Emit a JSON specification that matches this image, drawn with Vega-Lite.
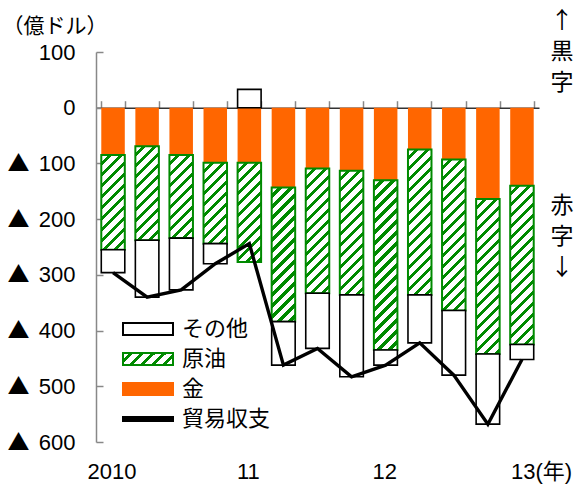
{
  "$schema": "https://vega.github.io/schema/vega-lite/v6.json",
  "width": 443,
  "height": 390,
  "autosize": "none",
  "padding": {"left": 96, "top": 52, "right": 43, "bottom": 46},
  "background": "white",
  "config": {"view": {"stroke": null}, "font": "Liberation Sans", "axis": {"grid": false}},
  "params": [
    {"name": "hatchStops", "value": [
      {"offset": 0, "color": "#ffffff"}, {"offset": 0.031, "color": "#ffffff"}, {"offset": 0.031, "color": "#008A00"}, {"offset": 0.05, "color": "#008A00"},
      {"offset": 0.05, "color": "#ffffff"}, {"offset": 0.081, "color": "#ffffff"}, {"offset": 0.081, "color": "#008A00"}, {"offset": 0.1, "color": "#008A00"},
      {"offset": 0.1, "color": "#ffffff"}, {"offset": 0.131, "color": "#ffffff"}, {"offset": 0.131, "color": "#008A00"}, {"offset": 0.15, "color": "#008A00"},
      {"offset": 0.15, "color": "#ffffff"}, {"offset": 0.181, "color": "#ffffff"}, {"offset": 0.181, "color": "#008A00"}, {"offset": 0.2, "color": "#008A00"},
      {"offset": 0.2, "color": "#ffffff"}, {"offset": 0.231, "color": "#ffffff"}, {"offset": 0.231, "color": "#008A00"}, {"offset": 0.25, "color": "#008A00"},
      {"offset": 0.25, "color": "#ffffff"}, {"offset": 0.281, "color": "#ffffff"}, {"offset": 0.281, "color": "#008A00"}, {"offset": 0.3, "color": "#008A00"},
      {"offset": 0.3, "color": "#ffffff"}, {"offset": 0.331, "color": "#ffffff"}, {"offset": 0.331, "color": "#008A00"}, {"offset": 0.35, "color": "#008A00"},
      {"offset": 0.35, "color": "#ffffff"}, {"offset": 0.381, "color": "#ffffff"}, {"offset": 0.381, "color": "#008A00"}, {"offset": 0.4, "color": "#008A00"},
      {"offset": 0.4, "color": "#ffffff"}, {"offset": 0.431, "color": "#ffffff"}, {"offset": 0.431, "color": "#008A00"}, {"offset": 0.45, "color": "#008A00"},
      {"offset": 0.45, "color": "#ffffff"}, {"offset": 0.481, "color": "#ffffff"}, {"offset": 0.481, "color": "#008A00"}, {"offset": 0.5, "color": "#008A00"},
      {"offset": 0.5, "color": "#ffffff"}, {"offset": 0.531, "color": "#ffffff"}, {"offset": 0.531, "color": "#008A00"}, {"offset": 0.55, "color": "#008A00"},
      {"offset": 0.55, "color": "#ffffff"}, {"offset": 0.581, "color": "#ffffff"}, {"offset": 0.581, "color": "#008A00"}, {"offset": 0.6, "color": "#008A00"},
      {"offset": 0.6, "color": "#ffffff"}, {"offset": 0.631, "color": "#ffffff"}, {"offset": 0.631, "color": "#008A00"}, {"offset": 0.65, "color": "#008A00"},
      {"offset": 0.65, "color": "#ffffff"}, {"offset": 0.681, "color": "#ffffff"}, {"offset": 0.681, "color": "#008A00"}, {"offset": 0.7, "color": "#008A00"},
      {"offset": 0.7, "color": "#ffffff"}, {"offset": 0.731, "color": "#ffffff"}, {"offset": 0.731, "color": "#008A00"}, {"offset": 0.75, "color": "#008A00"},
      {"offset": 0.75, "color": "#ffffff"}, {"offset": 0.781, "color": "#ffffff"}, {"offset": 0.781, "color": "#008A00"}, {"offset": 0.8, "color": "#008A00"},
      {"offset": 0.8, "color": "#ffffff"}, {"offset": 0.831, "color": "#ffffff"}, {"offset": 0.831, "color": "#008A00"}, {"offset": 0.85, "color": "#008A00"},
      {"offset": 0.85, "color": "#ffffff"}, {"offset": 0.881, "color": "#ffffff"}, {"offset": 0.881, "color": "#008A00"}, {"offset": 0.9, "color": "#008A00"},
      {"offset": 0.9, "color": "#ffffff"}, {"offset": 0.931, "color": "#ffffff"}, {"offset": 0.931, "color": "#008A00"}, {"offset": 0.95, "color": "#008A00"},
      {"offset": 0.95, "color": "#ffffff"}, {"offset": 0.981, "color": "#ffffff"}, {"offset": 0.981, "color": "#008A00"}, {"offset": 1, "color": "#008A00"}
    ]}
  ],
  "datasets": {
    "parts": [
      {"q": "2010Q1", "item": "金", "value": -85}, {"q": "2010Q1", "item": "原油", "value": -170}, {"q": "2010Q1", "item": "その他", "value": -41},
      {"q": "2010Q2", "item": "金", "value": -69}, {"q": "2010Q2", "item": "原油", "value": -169}, {"q": "2010Q2", "item": "その他", "value": -102},
      {"q": "2010Q3", "item": "金", "value": -85}, {"q": "2010Q3", "item": "原油", "value": -149}, {"q": "2010Q3", "item": "その他", "value": -93},
      {"q": "2010Q4", "item": "金", "value": -99}, {"q": "2010Q4", "item": "原油", "value": -145}, {"q": "2010Q4", "item": "その他", "value": -36},
      {"q": "2011Q1", "item": "金", "value": -99}, {"q": "2011Q1", "item": "原油", "value": -178}, {"q": "2011Q1", "item": "その他", "value": 33},
      {"q": "2011Q2", "item": "金", "value": -143}, {"q": "2011Q2", "item": "原油", "value": -241}, {"q": "2011Q2", "item": "その他", "value": -78},
      {"q": "2011Q3", "item": "金", "value": -109}, {"q": "2011Q3", "item": "原油", "value": -224}, {"q": "2011Q3", "item": "その他", "value": -99},
      {"q": "2011Q4", "item": "金", "value": -113}, {"q": "2011Q4", "item": "原油", "value": -223}, {"q": "2011Q4", "item": "その他", "value": -147},
      {"q": "2012Q1", "item": "金", "value": -130}, {"q": "2012Q1", "item": "原油", "value": -305}, {"q": "2012Q1", "item": "その他", "value": -27},
      {"q": "2012Q2", "item": "金", "value": -75}, {"q": "2012Q2", "item": "原油", "value": -261}, {"q": "2012Q2", "item": "その他", "value": -86},
      {"q": "2012Q3", "item": "金", "value": -93}, {"q": "2012Q3", "item": "原油", "value": -271}, {"q": "2012Q3", "item": "その他", "value": -116},
      {"q": "2012Q4", "item": "金", "value": -164}, {"q": "2012Q4", "item": "原油", "value": -278}, {"q": "2012Q4", "item": "その他", "value": -126},
      {"q": "2013Q1", "item": "金", "value": -140}, {"q": "2013Q1", "item": "原油", "value": -285}, {"q": "2013Q1", "item": "その他", "value": -27}
    ],
    "balance": [
      {"q": "2010Q1", "item": "貿易収支", "value": -296},
      {"q": "2010Q2", "item": "貿易収支", "value": -340},
      {"q": "2010Q3", "item": "貿易収支", "value": -327},
      {"q": "2010Q4", "item": "貿易収支", "value": -280},
      {"q": "2011Q1", "item": "貿易収支", "value": -244},
      {"q": "2011Q2", "item": "貿易収支", "value": -462},
      {"q": "2011Q3", "item": "貿易収支", "value": -432},
      {"q": "2011Q4", "item": "貿易収支", "value": -483},
      {"q": "2012Q1", "item": "貿易収支", "value": -462},
      {"q": "2012Q2", "item": "貿易収支", "value": -422},
      {"q": "2012Q3", "item": "貿易収支", "value": -480},
      {"q": "2012Q4", "item": "貿易収支", "value": -568},
      {"q": "2013Q1", "item": "貿易収支", "value": -452}
    ]
  },
  "resolve": {"axis": {"x": "independent", "y": "independent"}},
  "layer": [
    {
      "data": {"name": "parts"},
      "transform": [
        {"stack": "value", "groupby": ["q"], "sort": [{"field": "item", "order": "descending"}], "as": ["v0", "v1"]}
      ],
      "mark": {
        "type": "bar",
        "fill": {"expr": "datum.item === '金' ? '#FF6600' : datum.item === '原油' ? {gradient: 'linear', x1: 0, y1: 0, x2: 220 * bandwidth('x') / (bandwidth('x') * bandwidth('x') + pow(abs(datum.value) * height / 700, 2)), y2: 220 * (abs(datum.value) * height / 700) / (bandwidth('x') * bandwidth('x') + pow(abs(datum.value) * height / 700, 2)), stops: hatchStops} : 'white'"},
        "stroke": {"expr": "datum.item === 'その他' ? 'black' : datum.item === '原油' ? '#008A00' : 'transparent'"},
        "strokeWidth": {"expr": "datum.item === '原油' ? 2 : 1.6"}
      },
      "encoding": {
        "x": {
          "field": "q", "type": "nominal", "sort": null,
          "scale": {"type": "band", "paddingInner": 0.31, "paddingOuter": 0.155},
          "axis": {
            "orient": "bottom", "domain": false, "ticks": false, "title": null,
            "labelExpr": "datum.value == '2010Q1' ? '2010' : datum.value == '2011Q1' ? '11' : datum.value == '2012Q1' ? '12' : datum.value == '2013Q1' ? '13(年)' : ''",
            "labelAngle": 0, "labelFont": "Liberation Sans, Noto Sans CJK JP", "labelFontSize": 22, "labelColor": "black",
            "labelPadding": 19, "labelOverlap": false, "labelBound": false, "labelFlush": false,
            "labelAlign": {"condition": {"test": "datum.value == '2013Q1'", "value": "left"}, "value": "center"},
            "labelOffset": {"condition": {"test": "datum.value == '2013Q1'", "value": -11}, "value": -1}
          }
        },
        "y": {
          "field": "v0", "type": "quantitative",
          "scale": {"domain": [-600, 100], "nice": false, "zero": false},
          "axis": {
            "orient": "left", "values": [100, 0, -100, -200, -300, -400, -500, -600],
            "labelExpr": "'' + abs(datum.value)",
            "labelFont": "Liberation Sans", "labelFontSize": 22, "labelColor": "black", "labelPadding": 28,
            "domainColor": "#888888", "domainWidth": 1.5, "tickColor": "#888888", "tickWidth": 1.5, "tickSize": -7,
            "title": "（億ドル）", "titleAngle": 0, "titleX": -94, "titleY": -26, "titleAlign": "left", "titleBaseline": "middle",
            "titleFont": "Noto Sans CJK JP", "titleFontSize": 21, "titleFontWeight": "normal", "titleColor": "black"
          }
        },
        "y2": {"field": "v1"}
      }
    },
    {
      "data": {"name": "balance"},
      "mark": {"type": "line", "strokeWidth": 3.4, "strokeJoin": "miter"},
      "encoding": {
        "x": {
          "field": "q", "type": "nominal", "sort": null,
          "scale": {"type": "band", "paddingInner": 0.31, "paddingOuter": 0.155},
          "axis": {
            "orient": "top", "offset": -55.71, "labels": false, "title": null,
            "domainColor": "#333333", "domainWidth": 1.6,
            "ticks": true, "tickBand": "extent", "tickColor": "#888888", "tickSize": 7, "tickWidth": 1.5
          }
        },
        "y": {
          "field": "value", "type": "quantitative",
          "axis": {
            "orient": "right", "offset": -532, "title": null, "values": [-100, -200, -300, -400, -500, -600],
            "labelExpr": "'▲'", "labelFont": "Noto Sans CJK JP", "labelFontSize": 22, "labelColor": "black",
            "labelAlign": "left", "labelPadding": 0, "domain": false, "ticks": false, "labelOverlap": false
          }
        },
        "color": {
          "field": "item", "type": "nominal",
          "scale": {"domain": ["その他", "原油", "金", "貿易収支"], "range": ["black", "#008A00", "#FF6600", "black"]},
          "legend": {
            "orient": "none", "legendX": 41, "legendY": 266, "title": null, "padding": 0,
            "symbolType": "M-2.5,-0.6H2.5V0.6H-2.5Z", "symbolSize": 400,
            "labelFont": "Noto Sans CJK JP", "labelFontSize": 22, "labelColor": "black", "labelOffset": 23,
            "rowPadding": 8,
            "encode": {
              "symbols": {
                "update": {
                  "fill": {"signal": "datum.value == '原油' ? {gradient: 'linear', x1: 0, y1: 0, x2: 4.16, y2: 1, stops: hatchStops} : datum.value == 'その他' ? 'white' : datum.value == '金' ? '#FF6600' : 'black'"},
                  "stroke": {"signal": "datum.value == '原油' ? '#008A00' : datum.value == 'その他' ? 'black' : 'transparent'"},
                  "strokeWidth": {"value": 2},
                  "shape": {"signal": "datum.value == '貿易収支' ? 'M-2.5,-0.2H2.5V0.2H-2.5Z' : 'M-2.5,-0.6H2.5V0.6H-2.5Z'"},
                  "opacity": {"value": 1},
                  "fillOpacity": {"value": 1},
                  "strokeOpacity": {"value": 1}
                }
              }
            }
          }
        }
      }
    },
    {
      "data": {"values": [{}]},
      "mark": {"type": "text", "text": ["↑", "黒", "字"], "font": "Noto Sans CJK JP", "fontSize": 23, "lineHeight": 31, "dx": 40, "align": "center", "baseline": "middle", "color": "black"},
      "encoding": {
        "x": {"datum": "2013Q1", "type": "nominal", "axis": null},
        "y": {"datum": 156, "type": "quantitative", "axis": null}
      }
    },
    {
      "data": {"values": [{}]},
      "mark": {"type": "text", "text": ["赤", "字", "↓"], "font": "Noto Sans CJK JP", "fontSize": 23, "lineHeight": 31, "dx": 40, "align": "center", "baseline": "middle", "color": "black"},
      "encoding": {
        "x": {"datum": "2013Q1", "type": "nominal", "axis": null},
        "y": {"datum": -176, "type": "quantitative", "axis": null}
      }
    }
  ]
}
